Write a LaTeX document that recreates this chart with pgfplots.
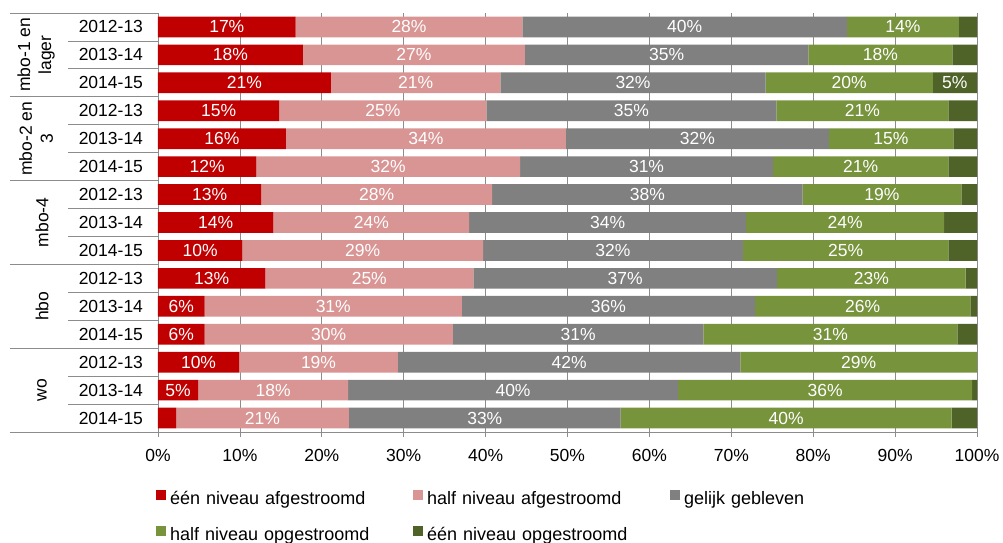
\documentclass[border=0pt]{standalone}
\usepackage{pgfplots}
\pgfplotsset{compat=1.18}
\usepackage{pgfplotstable}
\usepackage{fontspec}
\setmainfont{Liberation Sans}

\definecolor{c1}{HTML}{C00000}
\definecolor{c2}{HTML}{D99594}
\definecolor{c3}{HTML}{808080}
\definecolor{c4}{HTML}{77933C}
\definecolor{c5}{HTML}{4F6228}
\definecolor{gridc}{HTML}{8C8C8C}
\newcommand\fsz{\fontsize{17.5bp}{21bp}\selectfont}
\newcommand\lsz{\fontsize{18bp}{21bp}\selectfont}

% rij 14 = bovenste balk (mbo-1 en lager, 2012-13)
\pgfplotstableread{
row a b c d e
14 16.8 27.7 39.6 13.7 2.2
13 17.7 27.1 34.6 17.6 3.0
12 21.1 20.7 32.4 20.4 5.4
11 14.8 25.3 35.4 21.0 3.5
10 15.6 34.2 32.1 15.2 2.9
9  12.0 32.2 30.9 21.4 3.5
8  12.6 28.2 37.9 19.4 1.9
7  14.1 23.9 33.8 24.2 4.0
6  10.3 29.4 31.7 25.1 3.5
5  13.1 25.4 37.1 23.0 1.4
4  5.7  31.4 35.8 26.3 0.8
3  5.7  30.3 30.6 31.0 2.4
2  9.9  19.4 41.8 28.9 0.0
1  4.9  18.3 40.3 35.9 0.6
0  2.2  21.1 33.2 40.4 3.1
}\data

\begin{document}
\begin{tikzpicture}
\useasboundingbox (-158bp,-111bp) rectangle (845bp,432bp);
\begin{axis}[
    scale only axis, width=819bp, height=419bp,
    xbar stacked, bar width=20.7bp,
    xmin=0, xmax=100, ymin=-0.5, ymax=14.5,
    axis x line*=bottom, axis y line*=left,
    axis line style={draw=gridc, line width=0.8pt, -},
    xtick={0,10,...,100},
    xticklabel={\pgfmathprintnumber{\tick}\%},
    /pgf/number format/assume math mode=true,
    xmajorgrids, grid style={gridc, line width=0.8pt},
    tick align=outside, major tick length=5bp,
    xtick style={gridc, line width=0.8pt},
    ytick={0,...,14},
    yticklabels={2014-15,2013-14,2012-13,2014-15,2013-14,2012-13,2014-15,2013-14,2012-13,2014-15,2013-14,2012-13,2014-15,2013-14,2012-13},
    ytick style={draw=none},
    tick label style={font=\fsz, text=black},
    xticklabel style={yshift=-9bp},
    yticklabel style={xshift=-6.5bp},
    clip=false,
    visualization depends on={rawx \as \rawx},
    nodes near coords={\ifdim\rawx pt<4.5pt\else\pgfmathprintnumber[fixed,precision=0]{\rawx}\%\fi},
    every node near coord/.append style={font=\fsz, text=white},
    legend columns=3,
    legend image code/.code={\fill[#1] (0bp,0bp) rectangle (10bp,9.5bp);},
    legend style={draw=none, at={(0,0)}, anchor=north west, xshift=-2bp, yshift=-57bp,
        font=\lsz, inner sep=0pt, row sep=15bp,
        nodes={text width=241bp, align=left, text height=13bp, text depth=4bp, inner sep=2bp},
        /tikz/every odd column/.append style={column sep=2bp}},
]
\addplot[fill=c1, draw=none] table[x=a, y=row]{\data};
\addlegendentry{één niveau afgestroomd}
\addplot[fill=c2, draw=none] table[x=b, y=row]{\data};
\addlegendentry{half niveau afgestroomd}
\addplot[fill=c3, draw=none] table[x=c, y=row]{\data};
\addlegendentry{gelijk gebleven}
\addplot[fill=c4, draw=none] table[x=d, y=row]{\data};
\addlegendentry{half niveau opgestroomd}
\addplot[fill=c5, draw=none] table[x=e, y=row]{\data};
\addlegendentry{één niveau opgestroomd}

% scheidingslijnen links van de as
\pgfplotsinvokeforeach{-0.5,2.5,5.5,8.5,11.5,14.5}{
  \draw[gridc, line width=0.8pt] ([xshift=-148bp]axis cs:0,#1) -- (axis cs:0,#1);
}
\pgfplotsinvokeforeach{0.5,1.5,3.5,4.5,6.5,7.5,9.5,10.5,12.5,13.5}{
  \draw[gridc, line width=0.8pt] ([xshift=-90bp]axis cs:0,#1) -- (axis cs:0,#1);
}
\node[rotate=90, align=center, font=\fsz, inner sep=0pt] at ([xshift=-122bp]axis cs:0,13) {mbo-1 en\\lager};
\node[rotate=90, align=center, font=\fsz, inner sep=0pt] at ([xshift=-122bp]axis cs:0,10) {mbo-2 en\\3};
\node[rotate=90, font=\fsz, inner sep=0pt] at ([xshift=-116bp]axis cs:0,7) {mbo-4};
\node[rotate=90, font=\fsz, inner sep=0pt] at ([xshift=-116bp]axis cs:0,4) {hbo};
\node[rotate=90, font=\fsz, inner sep=0pt] at ([xshift=-116bp]axis cs:0,1) {wo};
\end{axis}
\end{tikzpicture}
\end{document}
